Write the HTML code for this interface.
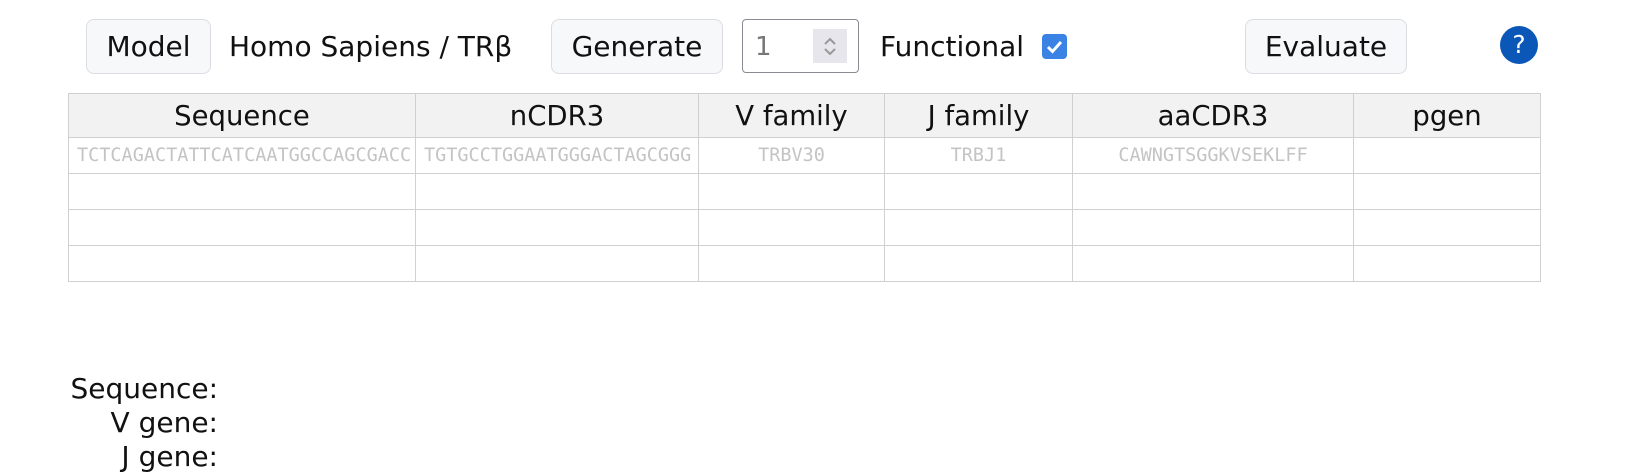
<!DOCTYPE html>
<html><head><meta charset="utf-8"><style>
body{margin:0;width:1645px;height:471px;background:#fff;font-family:"DejaVu Sans","Liberation Sans",sans-serif;color:#111;position:relative;overflow:hidden}
.a{position:absolute}
.btn{position:absolute;background:#f7f8fa;border:1px solid #dcdde2;border-radius:8px;box-sizing:border-box;font-size:28px;display:flex;align-items:center;justify-content:center;top:19px;height:55px}
.t{position:absolute;font-size:28px;top:27px;line-height:40px;white-space:nowrap}
table{position:absolute;left:68px;top:93px;border-collapse:collapse;table-layout:fixed}
td,th{border:1px solid #d0d0d0;padding:0;overflow:hidden;white-space:nowrap;text-align:center}
th{background:#f2f2f2;font-weight:normal;font-size:27.5px;height:43px}
td{height:35px;font-family:"DejaVu Sans Mono","Liberation Mono",monospace;font-size:18.5px;color:#c4c4c4}
.lab{position:absolute;right:1427px;font-size:28px;line-height:34px;text-align:right;white-space:nowrap}
</style></head><body>
<div class="btn" style="left:86px;width:125px">Model</div>
<div class="t" style="left:229px">Homo Sapiens / TRβ</div>
<div class="btn" style="left:551px;width:172px">Generate</div>
<div class="a" style="left:742px;top:19px;width:117px;height:54px;border:1px solid #8a8a92;border-radius:4px;box-sizing:border-box"></div>
<div class="t" style="left:755px;color:#777;font-size:26px">1</div>
<div class="a" style="left:813px;top:29px;width:34px;height:34px;background:#e6e6ec"><svg width="34" height="34"><polyline points="12,15 17,10 22,15" fill="none" stroke="#999" stroke-width="2"/><polyline points="12,20 17,25 22,20" fill="none" stroke="#999" stroke-width="2"/></svg></div>
<div class="t" style="left:880px">Functional</div>
<div class="a" style="left:1042px;top:34px;width:25px;height:25px;background:#3a82e4;border-radius:4px"><svg width="25" height="25"><polyline points="6,13 10.5,17.5 19,8" fill="none" stroke="#fff" stroke-width="3"/></svg></div>
<div class="btn" style="left:1245px;width:162px">Evaluate</div>
<div class="a" style="left:1500px;top:26px;width:38px;height:38px;border-radius:50%;background:#0b57b8;color:#fff;font-size:25px;text-align:center;line-height:38px">?</div>
<table>
<colgroup><col style="width:347px"><col style="width:283px"><col style="width:186px"><col style="width:188px"><col style="width:281px"><col style="width:187px"></colgroup>
<tr><th>Sequence</th><th>nCDR3</th><th>V family</th><th>J family</th><th>aaCDR3</th><th>pgen</th></tr>
<tr><td style="text-align:left;padding-left:8px;text-overflow:clip">TCTCAGACTATTCATCAATGGCCAGCGACC</td><td style="text-align:left;padding-left:8px">TGTGCCTGGAATGGGACTAGCGGG</td><td>TRBV30</td><td>TRBJ1</td><td>CAWNGTSGGKVSEKLFF</td><td></td></tr>
<tr><td></td><td></td><td></td><td></td><td></td><td></td></tr>
<tr><td></td><td></td><td></td><td></td><td></td><td></td></tr>
<tr><td></td><td></td><td></td><td></td><td></td><td></td></tr>
</table>
<div class="lab" style="top:372px">Sequence:<br>V gene:<br>J gene:</div>
</body></html>
